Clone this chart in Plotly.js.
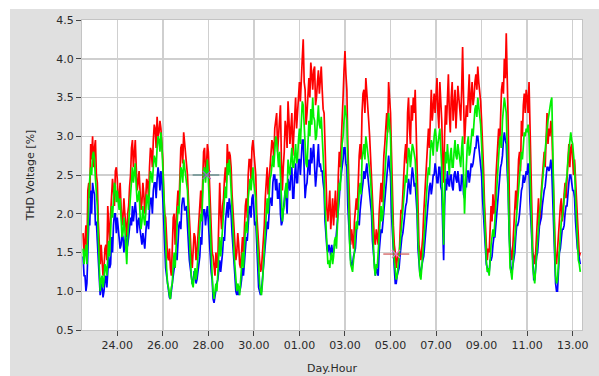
<!DOCTYPE html>
<html>
<head>
<meta charset="utf-8">
<script src="https://cdn.plot.ly/plotly-3.0.1.min.js"></script>
<style>
  html, body { margin: 0; padding: 0; background: #ffffff; }
  #chart { width: 599px; height: 376px; }
</style>
</head>
<body>
<div id="chart"></div>
<script>
// THD voltage per phase, hourly samples from 22 Jul 12:00
const sampleStart = '2012-07-22T12:00:00';
const sampleStepHours = 1;

const phaseL1 = [ // red
  1.75,1.45, 1.65,1.85, 1.5,2.3, 2.4,2.2, 2.9,2.7, 3.0,2.6,
  2.85,2.95, 2.5,2.4, 1.9,1.5, 1.35,1.6, 1.4,1.2, 1.3,1.55, 1.6,1.4, 2.1,1.75, 1.6,2.0, 2.25,2.45, 2.3,2.1, 2.55,2.6,
  2.45,2.15, 2.2,2.4, 2.1,1.85, 1.95,2.2, 2.0,1.8, 1.7,2.0, 2.1,2.35, 2.5,2.85, 2.95,2.6, 2.75,2.95, 2.6,2.3, 2.4,2.55,
  2.3,2.05, 2.15,2.4, 2.25,2.0, 2.2,2.45, 2.4,2.2, 2.6,2.85, 2.8,2.6, 2.95,3.15, 3.1,2.85, 3.25,3.0, 3.05,3.2, 3.1,2.95,
  2.7,2.3, 2.0,1.95, 1.7,1.45, 1.4,1.55, 1.3,1.2, 1.55,1.95, 2.0,1.6, 1.9,2.2, 2.3,2.1, 2.6,2.85, 2.9,2.65, 3.05,2.9,
  2.75,2.55, 2.5,2.2, 1.9,1.6, 1.45,1.3, 1.5,1.75, 1.7,1.4, 1.5,1.75, 1.9,2.15, 2.3,2.0, 2.6,2.8, 2.85,2.5, 2.6,2.9,
  2.8,2.45, 2.2,1.75, 1.5,1.45, 1.3,1.2, 1.5,1.3, 1.4,1.9, 2.4,2.0, 1.8,2.1, 2.2,2.45, 2.6,2.4, 2.9,2.65, 2.8,2.75,
  2.6,2.25, 2.0,1.85, 1.6,1.4, 1.5,1.75, 1.6,1.35, 1.3,1.55, 1.7,1.5, 1.9,2.1, 2.2,1.95, 2.5,2.7, 2.7,2.45, 2.85,2.95,
  2.8,2.6, 2.5,2.0, 1.7,1.6, 1.4,1.25, 1.3,1.5, 1.6,1.85, 2.2,2.5, 2.6,2.25, 2.4,2.6, 2.7,2.95, 2.9,2.7, 3.1,3.2,
  3.3,2.8, 3.0,3.35, 3.4,2.7, 2.3,2.6, 2.8,3.2, 3.1,2.85, 3.45,3.2, 2.9,3.1, 3.3,2.75, 3.0,3.3, 3.5,3.1, 3.3,3.6,
  3.7,3.45, 3.9,4.0, 4.25,3.7, 3.6,3.15, 3.3,3.55, 3.75,3.5, 3.95,3.8, 3.6,3.85, 3.9,3.4, 3.5,3.7, 3.85,3.55, 3.7,3.9,
  3.6,3.35, 3.3,2.9, 2.3,2.05, 1.9,2.15, 2.3,1.8, 2.0,2.2, 1.85,2.05, 2.3,1.95, 2.0,2.5, 2.8,2.6, 3.0,3.3, 3.5,3.85,
  4.1,3.8, 3.6,2.9, 2.4,2.0, 1.6,1.8, 1.65,1.55, 1.9,2.1, 2.2,2.05, 2.5,2.75, 2.9,2.7, 3.3,3.55, 3.6,3.3, 3.75,3.6,
  3.4,3.2, 3.0,2.7, 2.6,2.1, 1.8,1.65, 1.6,1.8, 1.7,1.6, 2.0,2.3, 2.4,2.15, 2.5,2.75, 2.9,3.15, 3.3,3.05, 3.7,3.5,
  3.3,2.8, 2.2,1.85, 1.6,1.5, 1.3,1.45, 1.5,1.4, 1.8,2.05, 2.0,2.3, 2.5,2.75, 2.9,2.65, 3.3,3.5, 3.1,2.9, 3.4,3.2,
  3.5,3.3, 3.6,3.1, 2.6,2.0, 1.6,1.5, 1.4,1.55, 1.7,2.0, 2.2,2.45, 2.7,2.9, 3.1,2.85, 3.4,3.6, 3.2,3.45, 3.55,3.3,
  3.6,3.75, 3.3,3.1, 3.7,3.45, 3.2,2.7, 2.4,3.0, 3.4,3.15, 3.6,3.8, 3.3,3.05, 3.5,3.7, 3.2,3.35, 3.6,3.1, 3.4,3.65,
  3.5,3.3, 3.2,3.6, 4.15,3.5, 2.9,3.15, 3.4,3.25, 3.6,3.8, 3.3,3.45, 3.7,3.4, 3.5,3.7, 3.8,3.6, 3.9,3.7, 3.6,3.45,
  3.2,2.95, 2.6,2.15, 1.8,1.6, 1.4,1.55, 1.5,1.75, 2.1,1.9, 2.25,2.0, 2.1,2.45, 2.7,3.0, 3.1,2.85, 3.4,3.6, 3.7,3.55,
  4.0,3.75, 4.33,3.9, 3.2,2.4, 1.6,1.5, 1.4,1.6, 1.8,2.1, 2.3,2.05, 2.5,2.7, 2.8,2.55, 3.2,3.0, 3.4,3.55, 3.3,3.6,
  3.5,3.3, 3.7,3.2, 2.5,1.9, 1.5,1.45, 1.35,1.5, 1.7,1.95, 2.2,1.85, 2.0,2.3, 2.5,2.7, 2.8,2.6, 3.1,3.3, 2.9,3.1,
  3.0,3.2, 3.1,2.7, 2.2,1.8, 1.4,1.35, 1.5,1.7, 1.9,2.1, 2.2,1.9, 2.0,2.25, 2.4,2.2, 2.5,2.75, 2.9,2.6, 2.85,2.9,
  2.6,2.5, 2.7,2.45, 2.2,1.8, 1.6,1.45, 1.5
];

const phaseL2 = [ // green
  1.55,1.35, 1.5,1.6, 1.35,1.9, 2.2,2.45, 2.6,2.5, 2.75,2.8,
  2.7,2.45, 2.3,2.1, 1.7,1.25, 1.0,1.15, 1.2,1.05, 1.15,1.35, 1.3,1.2, 1.5,1.65, 1.45,1.85, 2.1,1.95, 2.2,2.4, 2.35,2.15,
  2.3,2.1, 2.05,2.2, 1.9,1.7, 1.75,1.95, 1.8,1.55, 1.35,1.7, 1.9,2.15, 2.3,2.45, 2.6,2.4, 2.5,2.65, 2.35,2.15, 2.2,2.3,
  2.0,1.8, 1.9,2.1, 1.95,1.85, 2.0,2.25, 2.2,2.05, 2.35,2.55, 2.5,2.4, 2.6,2.75, 2.7,2.6, 2.85,3.0, 2.95,2.8, 3.05,2.9,
  2.6,2.2, 1.8,1.45, 1.3,1.1, 1.05,0.95, 0.9,1.05, 1.1,1.35, 1.5,1.3, 1.6,1.9, 2.1,2.0, 2.4,2.6, 2.55,2.4, 2.7,2.6,
  2.55,2.4, 2.3,1.95, 1.7,1.4, 1.2,1.1, 1.05,1.2, 1.3,1.15, 1.25,1.45, 1.6,1.85, 2.0,1.9, 2.4,2.55, 2.6,2.4, 2.55,2.7,
  2.45,2.1, 1.8,1.5, 1.2,1.0, 0.9,1.0, 1.1,1.0, 1.2,1.5, 1.7,1.45, 1.6,1.85, 2.0,2.2, 2.35,2.2, 2.65,2.5, 2.7,2.55,
  2.35,2.05, 1.8,1.5, 1.3,1.15, 1.0,1.1, 1.05,0.95, 1.15,1.35, 1.5,1.3, 1.6,1.8, 1.9,1.75, 2.2,2.4, 2.45,2.3, 2.5,2.6,
  2.4,2.3, 2.2,1.8, 1.5,1.25, 1.1,1.0, 0.95,1.1, 1.3,1.6, 1.8,2.05, 2.2,2.0, 2.3,2.45, 2.5,2.7, 2.75,2.6, 2.9,3.0,
  2.95,2.7, 2.6,2.8, 2.5,2.15, 1.9,2.05, 2.1,2.3, 2.4,2.2, 2.7,2.55, 2.5,2.7, 2.85,2.6, 2.6,2.75, 2.9,2.65, 2.7,2.95,
  3.1,2.9, 3.3,3.45, 3.4,3.1, 2.9,2.65, 2.6,2.9, 3.2,3.0, 3.35,3.15, 3.5,3.25, 3.2,2.95, 3.0,3.2, 3.4,3.15, 3.1,3.25,
  3.0,2.8, 2.5,2.1, 1.8,1.55, 1.35,1.4, 1.3,1.45, 1.5,1.35, 1.45,1.65, 1.7,1.55, 1.9,2.2, 2.4,2.3, 2.7,2.9, 3.0,3.2,
  3.4,3.3, 3.2,2.6, 2.0,1.6, 1.35,1.3, 1.25,1.4, 1.5,1.75, 1.9,1.8, 2.1,2.3, 2.4,2.25, 2.7,2.85, 2.9,2.7, 3.0,2.9,
  2.8,2.65, 2.6,2.45, 2.2,1.8, 1.5,1.3, 1.2,1.35, 1.3,1.5, 1.7,1.9, 2.1,1.9, 2.0,2.3, 2.5,2.7, 2.9,3.1, 3.3,3.15,
  3.0,2.4, 1.9,1.6, 1.4,1.25, 1.15,1.2, 1.3,1.45, 1.6,1.75, 1.9,2.1, 2.2,2.35, 2.5,2.4, 2.7,2.85, 2.8,2.6, 2.75,2.9,
  2.85,2.75, 2.7,2.45, 2.2,1.7, 1.3,1.2, 1.15,1.3, 1.4,1.6, 1.8,2.05, 2.3,2.45, 2.6,2.5, 2.8,2.95, 2.9,2.75, 3.0,3.1,
  3.0,2.8, 2.9,3.05, 3.1,2.85, 2.6,2.1, 1.6,2.3, 2.8,2.65, 2.9,2.7, 2.5,2.75, 2.85,2.6, 2.6,2.8, 2.95,2.75, 2.7,2.9,
  2.8,2.65, 2.6,2.85, 3.0,2.5, 2.0,2.35, 2.7,2.9, 3.0,2.75, 2.8,2.95, 3.1,3.0, 3.2,3.35, 3.4,3.25, 3.5,3.4, 3.3,3.15,
  2.9,2.6, 2.2,1.85, 1.6,1.4, 1.25,1.3, 1.2,1.45, 1.6,1.7, 1.8,1.7, 1.9,2.15, 2.4,2.6, 2.8,2.95, 3.0,2.85, 3.2,3.4,
  3.5,3.4, 3.3,2.85, 2.4,1.8, 1.3,1.25, 1.15,1.35, 1.5,1.7, 1.9,2.05, 2.1,2.3, 2.5,2.65, 2.8,2.7, 2.9,3.05, 3.0,3.1,
  3.05,3.15, 3.0,2.55, 2.1,1.7, 1.3,1.2, 1.1,1.3, 1.5,1.65, 1.9,2.0, 2.1,2.25, 2.4,2.6, 2.7,2.85, 2.95,3.1, 3.2,3.3,
  3.35,3.45, 3.5,2.8, 2.0,1.6, 1.2,1.1, 1.15,1.35, 1.6,1.8, 1.9,1.95, 2.1,2.25, 2.3,2.4, 2.5,2.7, 2.8,2.95, 3.05,2.95,
  2.9,2.75, 2.6,2.2, 1.9,1.6, 1.4,1.35, 1.25
];

const phaseL3 = [ // blue
  1.45,1.2, 1.2,1.0, 1.1,1.6, 1.9,1.85, 2.3,2.0, 2.4,2.3,
  2.25,1.85, 1.9,1.65, 1.35,1.05, 0.95,1.1, 1.05,0.92, 1.0,1.15, 1.2,1.05, 1.3,1.45, 1.3,1.35, 1.7,1.5, 1.85,2.0, 2.0,1.75,
  1.95,1.8, 1.75,1.55, 1.6,1.75, 1.7,1.5, 1.65,1.72, 1.55,1.6, 1.7,1.9, 1.95,1.85, 2.1,1.9, 2.05,2.15, 2.0,1.75, 1.9,1.95,
  1.8,1.65, 1.6,1.75, 1.65,1.55, 1.75,1.9, 1.9,1.8, 2.05,2.2, 2.2,2.0, 2.3,2.4, 2.4,2.2, 2.45,2.6, 2.5,2.3, 2.55,2.45,
  2.2,1.85, 1.6,1.3, 1.2,1.1, 1.0,0.92, 0.9,1.0, 1.05,1.15, 1.3,1.45, 1.5,1.4, 1.7,1.85, 1.9,1.8, 2.1,2.2, 2.2,2.05,
  2.05,2.1, 1.85,1.55, 1.4,1.3, 1.2,1.1, 1.1,1.25, 1.25,1.1, 1.15,1.25, 1.3,1.45, 1.7,1.6, 1.95,2.05, 2.05,1.85, 2.0,2.1,
  1.9,1.65, 1.5,1.25, 1.15,0.9, 0.85,0.95, 1.0,1.1, 1.15,1.25, 1.4,1.25, 1.35,1.5, 1.7,1.65, 1.9,2.05, 2.15,1.95, 2.2,2.1,
  2.0,1.75, 1.6,1.35, 1.2,1.0, 0.95,1.05, 0.95,1.0, 1.05,1.15, 1.3,1.2, 1.4,1.6, 1.7,1.65, 1.9,2.05, 2.1,1.95, 2.2,2.25,
  2.05,1.85, 1.9,1.55, 1.3,1.05, 1.0,0.95, 1.0,1.15, 1.25,1.4, 1.6,1.8, 1.9,1.8, 2.0,2.2, 2.2,2.1, 2.4,2.5, 2.5,2.3,
  2.45,2.2, 2.2,2.4, 2.0,1.85, 1.9,2.05, 2.1,2.3, 2.2,2.0, 2.45,2.35, 2.3,2.55, 2.6,2.2, 2.2,2.5, 2.65,2.4, 2.4,2.7,
  2.7,2.5, 2.8,2.95, 2.95,2.35, 2.2,2.35, 2.4,2.6, 2.7,2.5, 2.85,2.65, 2.75,2.9, 2.6,2.35, 2.5,2.75, 2.9,2.6, 2.65,2.55,
  2.55,2.4, 2.3,1.9, 1.7,1.55, 1.5,1.6, 1.55,1.45, 1.6,1.5, 1.5,1.6, 1.6,1.75, 1.8,1.95, 2.2,2.4, 2.5,2.55, 2.7,2.85,
  2.85,2.65, 2.6,2.1, 1.8,1.5, 1.4,1.32, 1.35,1.45, 1.5,1.55, 1.75,1.9, 1.9,1.85, 2.05,2.25, 2.3,2.4, 2.55,2.45, 2.6,2.65,
  2.5,2.35, 2.3,2.1, 2.0,1.65, 1.5,1.25, 1.2,1.3, 1.25,1.2, 1.5,1.7, 1.8,1.75, 1.9,2.1, 2.2,2.3, 2.5,2.65, 2.75,2.6,
  2.5,2.0, 1.7,1.4, 1.3,1.1, 1.1,1.2, 1.25,1.3, 1.45,1.65, 1.7,1.75, 1.9,2.05, 2.1,2.15, 2.3,2.45, 2.35,2.25, 2.45,2.6,
  2.5,2.35, 2.4,2.25, 2.0,1.55, 1.3,1.22, 1.25,1.35, 1.4,1.45, 1.6,1.85, 2.0,2.05, 2.2,2.35, 2.4,2.25, 2.35,2.5, 2.5,2.65,
  2.55,2.4, 2.4,2.6, 2.6,2.35, 2.3,1.75, 1.4,2.1, 2.45,2.3, 2.55,2.4, 2.35,2.5, 2.5,2.35, 2.3,2.5, 2.55,2.45, 2.4,2.55,
  2.45,2.3, 2.3,2.5, 2.5,2.25, 2.2,2.35, 2.35,2.55, 2.55,2.4, 2.5,2.65, 2.6,2.65, 2.75,2.85, 2.85,3.0, 3.0,2.85, 2.8,2.6,
  2.5,2.2, 2.0,1.65, 1.5,1.35, 1.3,1.25, 1.25,1.4, 1.4,1.45, 1.6,1.7, 1.7,1.9, 2.0,2.15, 2.3,2.5, 2.6,2.65, 2.75,2.95,
  3.05,2.95, 2.9,2.55, 2.3,1.75, 1.4,1.25, 1.25,1.35, 1.4,1.5, 1.7,1.85, 1.85,1.9, 2.0,2.2, 2.3,2.35, 2.5,2.4, 2.45,2.55,
  2.5,2.65, 2.55,2.15, 1.9,1.5, 1.3,1.15, 1.15,1.35, 1.45,1.5, 1.7,1.85, 1.9,1.95, 2.1,2.25, 2.3,2.35, 2.5,2.6, 2.6,2.55,
  2.6,2.7, 2.55,2.15, 1.8,1.35, 1.1,1.0, 1.0,1.25, 1.5,1.55, 1.7,1.8, 1.8,1.85, 2.0,2.1, 2.1,2.3, 2.4,2.5, 2.5,2.4,
  2.3,2.3, 2.2,1.9, 1.7,1.55, 1.5,1.4, 1.35
];

// Cursor marks: horizontal bar with a cross at the cursor time
const cursorA = { from: '2012-07-27T07:28', to: '2012-07-28T11:31', at: '2012-07-27T22:13', value: 2.5 };
const cursorB = { from: '2012-08-04T16:22', to: '2012-08-05T19:47', at: '2012-08-05T05:46', value: 1.48 };

const yTicks = [0.5, 1.0, 1.5, 2.0, 2.5, 3.0, 3.5, 4.0, 4.5];
const yTickText = ['0.5', '1.0', '1.5', '2.0', '2.5', '3.0', '3.5', '4.0', '4.5'];

// time stamps for the hourly samples
const t0 = new Date(sampleStart + 'Z').getTime();
function stamp(i) {
  const d = new Date(t0 + i * sampleStepHours * 3600000);
  return d.toISOString().slice(0, 16).replace('T', ' ');
}

function phaseTrace(values, color) {
  return {
    x: values.map((_, i) => stamp(i)), y: values, type: 'scatter', mode: 'lines',
    line: { color: color, width: 1.7 },
    hoverinfo: 'skip', showlegend: false
  };
}

function cursorTraces(c, color) {
  return [
    { x: [c.from, c.to], y: [c.value, c.value], type: 'scatter', mode: 'lines',
      line: { color: color, width: 1.2 }, showlegend: false, hoverinfo: 'skip' },
    { x: [c.at], y: [c.value], type: 'scatter', mode: 'markers',
      marker: { symbol: 'x-thin-open', size: 8, line: { color: color, width: 1.3 } },
      showlegend: false, hoverinfo: 'skip' }
  ];
}

const data = [
  phaseTrace(phaseL1, '#ff0000'),
  phaseTrace(phaseL3, '#0000ff'),
  phaseTrace(phaseL2, '#00f000'),
  ...cursorTraces(cursorA, '#4f7f7f'),
  ...cursorTraces(cursorB, '#d05050')
];

const axisFont = { family: 'DejaVu Sans, Verdana, sans-serif', size: 11, color: '#2a2a2a' };

const layout = {
  width: 599, height: 376,
  margin: { l: 82, r: 17, t: 20, b: 46, pad: 0 },
  paper_bgcolor: '#e0e0e0',
  plot_bgcolor: '#ffffff',
  font: axisFont,
  xaxis: {
    type: 'date',
    range: ['2012-07-22 10:50', '2012-08-13 09:50'],
    tick0: '2012-07-24', dtick: 2 * 86400000,
    tickformat: '%d.%H',
    ticks: 'outside', ticklen: 5, tickcolor: '#444444',
    showgrid: true, gridcolor: '#cfcfcf', gridwidth: 1.5,
    showline: true, linecolor: '#c4c4c4', linewidth: 1, mirror: true,
    zeroline: false,
    tickfont: axisFont,
    title: { text: 'Day.Hour', font: axisFont, standoff: 13 }
  },
  yaxis: {
    range: [0.5, 4.5],
    tickvals: yTicks, ticktext: yTickText,
    ticks: 'outside', ticklen: 5, tickcolor: '#444444',
    showgrid: true, gridcolor: '#cfcfcf', gridwidth: 1.5,
    showline: true, linecolor: '#c4c4c4', linewidth: 1, mirror: true,
    zeroline: false,
    tickfont: axisFont,
    title: { text: 'THD Voltage [%]', font: axisFont, standoff: 19 }
  },
  shapes: [
    // light margin strips along the top and left edge of the panel
    { type: 'rect', xref: 'paper', yref: 'paper', x0: -0.2, x1: -0.144, y0: -0.2, y1: 1.1,
      fillcolor: '#ffffff', line: { width: 0 }, layer: 'below' },
    { type: 'rect', xref: 'paper', yref: 'paper', x0: -0.2, x1: 1.1, y0: 1.0355, y1: 1.1,
      fillcolor: '#ffffff', line: { width: 0 }, layer: 'below' }
  ]
};

Plotly.newPlot('chart', data, layout, { staticPlot: true, displayModeBar: false });
</script>
</body>
</html>
